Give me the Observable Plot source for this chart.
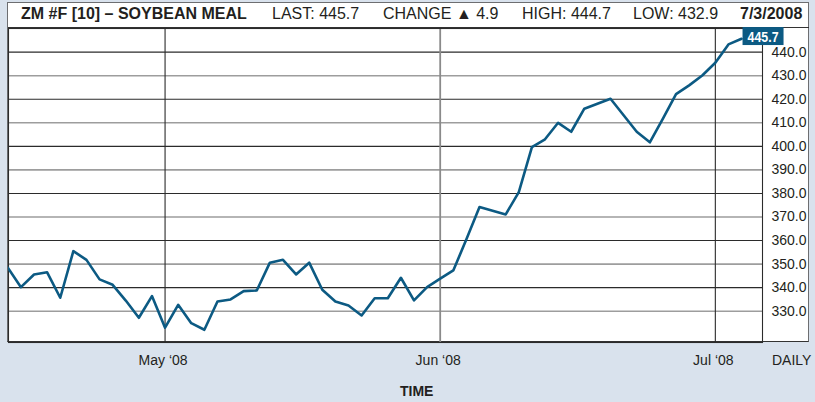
<!DOCTYPE html>
<html>
<head>
<meta charset="utf-8">
<script src="https://cdn.jsdelivr.net/npm/d3@7"></script>
<script src="https://cdn.jsdelivr.net/npm/@observablehq/plot@0.6"></script>
<style>
  html, body { margin: 0; padding: 0; background: #d9e2ed; }
  #wrap { position: relative; width: 815px; height: 402px; overflow: hidden; font-family: "Liberation Sans", Arial, sans-serif; color: #231f20; }
  #panel { position: absolute; left: 7px; top: 2px; width: 802px; height: 340px; background: #fff; border: 1px solid #6d6e71; box-sizing: border-box; border-bottom-color: #333; }
  #hdrline { position: absolute; left: 8px; top: 27px; width: 801px; height: 1px; background: #333; }
  .h { position: absolute; top: 5px; font-size: 16px; line-height: 18px; white-space: nowrap; }
  .b { font-weight: bold; }
  #chart { position: absolute; left: 0; top: 0; }
  .lab { position: absolute; font-size: 14px; white-space: nowrap; }
</style>
</head>
<body>
<div id="wrap">
  <div id="panel"></div>
  <div id="hdrline"></div>
  <div id="chart"></div>
  <div id="hdr"></div>
  <div class="lab" style="left:772px; top:352px;">DAILY</div>
  <div class="lab" style="left:400px; top:383px; font-weight:bold;">TIME</div>
</div>
<script>
// ---- data ----
const dates = [
  "2008-04-15","2008-04-16","2008-04-17","2008-04-18","2008-04-21","2008-04-22","2008-04-23","2008-04-24","2008-04-25","2008-04-28","2008-04-29","2008-04-30",
  "2008-05-01","2008-05-02","2008-05-05","2008-05-06","2008-05-07","2008-05-08","2008-05-09","2008-05-12","2008-05-13","2008-05-14","2008-05-15","2008-05-16","2008-05-19","2008-05-20","2008-05-21","2008-05-22","2008-05-23","2008-05-27","2008-05-28","2008-05-29","2008-05-30",
  "2008-06-02","2008-06-03","2008-06-04","2008-06-05","2008-06-06","2008-06-09","2008-06-10","2008-06-11","2008-06-12","2008-06-13","2008-06-16","2008-06-17","2008-06-18","2008-06-19","2008-06-20","2008-06-23","2008-06-24","2008-06-25","2008-06-26","2008-06-27","2008-06-30",
  "2008-07-01","2008-07-02","2008-07-03"
];
const closes = [
  348.5, 340.2, 345.6, 346.5, 335.7, 355.5, 351.8, 343.5, 341.2, 334.5, 327.2, 336.4,
  323.0, 332.7, 324.9, 322.1, 334.1, 335.0, 338.5, 338.8, 350.6, 351.8, 345.6, 350.6, 339.1, 334.1, 332.4, 328.2, 335.5, 335.5, 344.2, 334.6, 340.2,
  343.8, 347.3, 360.5, 374.2, 372.6, 371.1, 380.6, 399.7, 403.0, 410.0, 406.2, 416.0, 418.1, 420.2, 413.2, 406.2, 401.7, 411.8, 422.2, 425.9, 430.1,
  435.5, 443.3, 445.7
];
const yTicks = [330, 340, 350, 360, 370, 380, 390, 400, 410, 420, 430, 440];
const monthLabels = ["May \u201808", "Jun \u201808", "Jul \u201808"];
const headerItems = [
  {text: "ZM #F [10] \u2013 SOYBEAN MEAL", bold: true},
  {text: "LAST: 445.7", bold: false},
  {text: "CHANGE \u25B2 4.9", bold: false},
  {text: "HIGH: 444.7", bold: false},
  {text: "LOW: 432.9", bold: false},
  {text: "7/3/2008", bold: true}
];

// ---- header ----
const hdrX = [21, 272, 383, 522, 633, 740];
const hdr = document.getElementById("hdr");
headerItems.forEach((h, k) => {
  const s = document.createElement("div");
  s.className = "h" + (h.bold ? " b" : "");
  s.style.left = hdrX[k] + "px";
  s.textContent = h.text;
  hdr.appendChild(s);
});

// ---- chart ----
const data = dates.map((d, i) => ({i, date: d, close: closes[i]}));
const monthIdx = data.filter((d, i) => i > 0 && d.date.slice(5, 7) !== data[i - 1].date.slice(5, 7)).map(d => d.i);
const dark = "#2b2b2b", grey = "#9d9d9d", blue = "#0c5a83";
const last = data[data.length - 1];

const chart = Plot.plot({
  width: 815, height: 402,
  marginTop: 28, marginRight: 53, marginBottom: 60, marginLeft: 8,
  style: {background: "transparent", fontFamily: "'Liberation Sans', Arial, sans-serif", fontSize: "14px", color: "#231f20", overflow: "visible"},
  x: {type: "linear", domain: [0.05, 57.6]},
  y: {domain: [316.7, 450.05]},
  color: {type: "identity"},
  marks: [
    Plot.ruleY(yTicks.filter(d => (d / 10) % 2 === 1), {stroke: grey, strokeWidth: 1.6}),
    Plot.ruleY(yTicks.filter(d => (d / 10) % 2 === 0), {stroke: dark, strokeWidth: 1.1}),
    Plot.ruleX(monthIdx, {stroke: (d, k) => k === 1 ? "#8a8a8a" : dark, strokeWidth: (d, k) => k === 1 ? 1.8 : 1.1}),
    Plot.frame({stroke: dark, strokeWidth: 1.1}),
    Plot.line(data, {x: "i", y: "close", stroke: blue, strokeWidth: 2.6, clip: true}),
    Plot.axisY(yTicks, {anchor: "right", tickSize: 0, tickPadding: 9, tickFormat: d => d.toFixed(1), fontSize: 14, fill: "#231f20", label: null}),
    Plot.axisX(monthIdx, {anchor: "bottom", tickSize: 0, tickPadding: 13, dx: -2, tickFormat: d => monthLabels[monthIdx.indexOf(d)], fontSize: 14, fill: "#231f20", label: null}),
    Plot.text([last], {x: "i", y: "close", text: d => d.close.toFixed(1), textAnchor: "start", dx: 6, dy: -2, fill: "white", fontWeight: "bold", fontSize: 15, fontFamily: "'Liberation Sans', Arial, sans-serif", className: "lastlab"})
  ]
});
document.getElementById("chart").appendChild(chart);

// condensed look + background box behind last-value label
const t = chart.querySelector(".lastlab text");
if (t) {
  t.setAttribute("textLength", 31);
  t.setAttribute("lengthAdjust", "spacingAndGlyphs");
  const bb = t.getBBox();
  const r = document.createElementNS("http://www.w3.org/2000/svg", "rect");
  r.setAttribute("x", bb.x - 5);
  r.setAttribute("y", bb.y + bb.height / 2 - 9);
  r.setAttribute("width", 41);
  r.setAttribute("height", 18);
  r.setAttribute("fill", blue);
  const tr = t.getAttribute("transform");
  if (tr) r.setAttribute("transform", tr);
  t.parentNode.insertBefore(r, t);
}
</script>
</body>
</html>
